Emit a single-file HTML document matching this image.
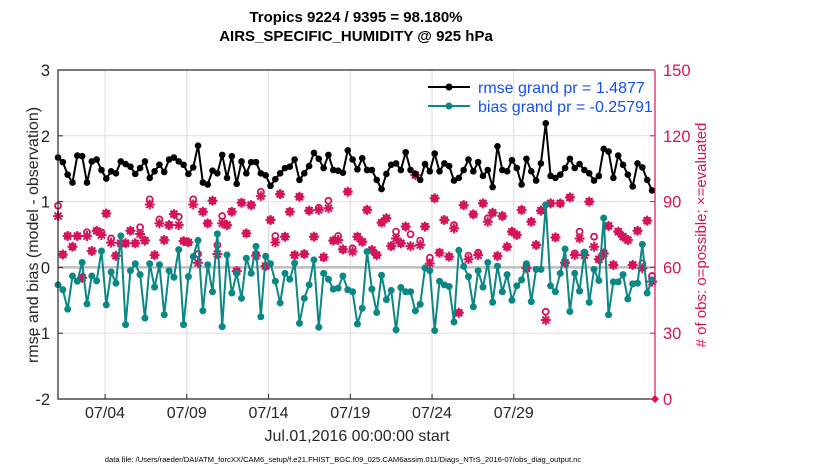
<!DOCTYPE html>
<html><head><meta charset="utf-8"><style>
body{margin:0;background:#fff;}
svg{display:block;font-family:"Liberation Sans",Arial,sans-serif;}
</style></head><body>
<svg id="chart" width="830" height="470" viewBox="0 0 830 470" xmlns="http://www.w3.org/2000/svg">
<rect x="0" y="0" width="830" height="470" fill="#fff"/>
<g id="grid"></g>
<g id="marks"></g>
<g id="axes"></g>
</svg>
<script>
const rmse=[1.67,1.60,1.41,1.29,1.70,1.69,1.29,1.61,1.64,1.48,1.35,1.46,1.43,1.61,1.57,1.53,1.42,1.51,1.61,1.36,1.46,1.56,1.45,1.64,1.67,1.61,1.56,1.42,1.52,1.85,1.29,
1.26,1.47,1.43,1.71,1.36,1.69,1.27,1.61,1.43,1.60,1.60,1.43,1.40,1.24,1.34,1.43,1.51,1.53,1.64,1.33,1.43,1.54,1.74,1.65,1.51,1.71,1.48,1.47,1.44,1.78,
1.64,1.49,1.66,1.48,1.48,1.33,1.19,1.42,1.56,1.58,1.48,1.75,1.48,1.42,1.33,1.57,1.46,1.73,1.46,1.58,1.54,1.32,1.36,1.48,1.64,1.46,1.60,1.39,1.48,1.22,1.84,
1.48,1.46,1.63,1.51,1.26,1.65,1.46,1.32,1.58,2.19,1.39,1.36,1.41,1.51,1.65,1.51,1.57,1.48,1.43,1.32,1.39,1.80,1.76,1.36,1.70,1.56,1.41,1.23,1.58,1.52,1.33,1.17];
const bias=[-0.265,-0.34,-0.635,-0.13,-0.21,0.075,-0.555,-0.13,-0.205,0.25,-0.57,-0.07,-0.24,0.48,-0.87,-0.05,0.055,-0.11,-0.77,0.055,-0.30,0.04,-0.72,-0.05,-0.15,0.27,-0.87,-0.14,0.165,0.41,-0.66,
0.04,-0.37,0.51,-0.90,0.19,-0.39,-0.09,-0.47,0.14,-0.09,0.32,-0.75,0.17,0.055,-0.21,-0.54,-0.09,-0.18,0.065,-0.85,-0.47,-0.265,0.115,-0.91,-0.09,-0.18,-0.33,-0.315,-0.13,-0.34,
-0.37,-0.86,-0.62,0.24,-0.33,-0.685,-0.12,-0.49,-0.35,-0.95,-0.305,-0.37,-0.37,-0.66,-0.56,-0.01,-0.05,-0.96,-0.21,-0.265,-0.29,-0.83,0.26,0.015,-0.14,-0.60,-0.05,-0.30,0.075,-0.53,0.02,
-0.37,-0.11,-0.50,-0.28,-0.19,0.055,-0.52,-0.03,-0.03,0.95,-0.28,-0.37,-0.09,0.28,-0.67,-0.09,-0.36,0.23,-0.53,-0.03,-0.20,0.75,-0.72,-0.22,-0.22,-0.11,-0.48,-0.25,-0.24,0.35,-0.39,-0.19];
const evaluated=[83.4,65.9,74.3,69.4,74.3,55.3,74.3,67.5,76.7,74.8,84.6,71.3,65.3,71,71,76.7,71,75.2,72.2,88.7,65.6,80.1,72.5,79.3,84.3,79.3,72,71.4,88.7,62.1,85.4,
80.1,90.4,66.1,80.1,79.3,85.4,58.3,89.5,75.5,88.4,65.3,92.5,60.6,81.6,71.4,93.4,74,85.4,65.6,92.2,66.1,85.9,74,86.2,64.6,87,72.2,72.5,68.2,94.5,67.2,
74,71.7,86.2,67.9,65.6,80.4,82.4,69.7,73.2,71,78.6,69.7,102.1,70.2,78.6,61.8,91.5,66.7,81.6,64.9,77.8,39.3,88.4,63.7,84.2,65.6,89.2,80.8,84.9,65.2,
83.4,69.4,76.3,74.8,86.2,59.6,80.8,70.2,85.9,36,89.2,73.7,89.2,62.1,91.9,65.6,73.2,65.6,90,69.4,63.7,66.4,78.9,61.1,76.3,74,72.5,61.1,76.7,59.6,81.3,53.5];
const possible=[88.1,65.9,74.3,69.4,74.3,55.3,76,67.5,76.7,76,84.6,73.2,65.3,71,71,76.7,71,78.3,72.2,91,65.6,81.9,72.5,79.3,84.3,83.1,72,71.4,91,66.1,85.4,
80.1,90.4,70.2,83.4,79.3,85.4,58.3,89.5,75.5,88.4,66.1,94.5,60.6,81.6,74.3,93.4,74,85.4,65.6,92.2,66.1,85.9,74,87.2,64.6,90.4,72.2,74.3,68.2,94.5,68.7,
74,71.7,86.2,67.9,65.6,80.4,82.4,69.7,76.3,71,78.6,75.1,102.1,72.2,78.6,64.4,91.5,66.7,81.6,64.9,79.3,39.3,88.4,65.3,84.2,66.7,89.2,82.4,84.9,65.2,
83.4,69.4,76.3,74.8,86.2,59.6,80.8,70.2,85.9,39.8,89.2,73.7,89.2,62.1,91.9,66.4,76.3,66.7,90,74,63.7,66.4,78.9,61.1,76.3,74,72.5,61.1,76.7,61.8,81.3,56.1];
const leftTicks=[3,2,1,0,-1,-2];
const rightTicks=[150,120,90,60,30,0];
const xTickLabels=["07/04","07/09","07/14","07/19","07/24","07/29"];
const xTickPos=[3,8,13,18,23,28];
</script>
<script>
const NS="http://www.w3.org/2000/svg";
const L=58,R=655,T=70,B=399;
const PINK="#D4145A",TEAL="#0B8785";
function yL(v){return T+(3-v)/5*(B-T);}
function yR(v){return B-v/150*(B-T);}
function xI(i){return 58+i*(652-58)/(rmse.length-1);}
function xD(d){return 56+d*16.35;}
function el(tag,attrs,parent,text){const e=document.createElementNS(NS,tag);for(const k in attrs)e.setAttribute(k,attrs[k]);if(text!==undefined)e.textContent=text;parent.appendChild(e);return e;}
const grid=document.getElementById('grid'),marks=document.getElementById('marks'),axes=document.getElementById('axes');
xTickLabels.forEach((t,k)=>{const x=xD(xTickPos[k]);
 const g=el('line',{x1:x,x2:x,y1:T,y2:B,stroke:'#dcdcdc','stroke-width':1},grid);
 
 });
rightTicks.forEach(v=>{const y=yR(v);
 const g=el('line',{x1:L,x2:R,y1:y,y2:y,stroke:'#f2d3df','stroke-width':1},grid);
 
 });
const zl=el('line',{x1:L,x2:R,y1:yL(0),y2:yL(0),stroke:'#bdbdbd','stroke-width':2.5},grid);


function star(x,y,parent){const s=5;
 return el('path',{d:`M${x-s},${y}H${x+s}M${x},${y-s}V${y+s}M${x-s*0.7},${y-s*0.7}L${x+s*0.7},${y+s*0.7}M${x-s*0.7},${y+s*0.7}L${x+s*0.7},${y-s*0.7}`,stroke:PINK,'stroke-width':2,fill:'none'},parent);}
evaluated.forEach((v,i)=>{const x=xI(i);
 const c=el('circle',{cx:x,cy:yR(possible[i]),r:3,fill:'none',stroke:PINK,'stroke-width':1.8},marks);
 
 
 const s=star(x,yR(v),marks);
 
 });
const rp=rmse.map((v,i)=>xI(i)+','+yL(v)).join(' ');
const rl=el('polyline',{points:rp,fill:'none',stroke:'#000','stroke-width':2},marks);


rmse.forEach((v,i)=>{const c=el('circle',{cx:xI(i),cy:yL(v),r:3.3,fill:'#000'},marks);
 
 });
const bp=bias.map((v,i)=>xI(i)+','+yL(v)).join(' ');
const bl=el('polyline',{points:bp,fill:'none',stroke:TEAL,'stroke-width':2},marks);


bias.forEach((v,i)=>{const c=el('circle',{cx:xI(i),cy:yL(v),r:3.5,fill:TEAL},marks);
 
 });
const fr=el('path',{d:`M${R},${T}H${L}V${B}H${R}`,fill:'none',stroke:'#262626','stroke-width':1.2},axes);


const ra=el('line',{x1:R,x2:R,y1:T,y2:B,stroke:PINK,'stroke-width':1.2},axes);


leftTicks.forEach(v=>{const y=yL(v);
 el('line',{x1:L,x2:L+5,y1:y,y2:y,stroke:'#262626'},axes);
 const t=el('text',{x:L-8,y:y+6,'text-anchor':'end','font-size':16.5,fill:'#262626'},axes,String(v));
 
 });
rightTicks.forEach(v=>{const y=yR(v);
 el('line',{x1:R-5,x2:R,y1:y,y2:y,stroke:PINK},axes);
 const t=el('text',{x:R+8,y:y+6,'font-size':16.5,fill:PINK},axes,String(v));
 
 });
xTickLabels.forEach((s,k)=>{const x=xD(xTickPos[k]);
 el('line',{x1:x,x2:x,y1:B-5,y2:B,stroke:'#262626'},axes);
 const t=el('text',{x:x,y:418,'text-anchor':'middle','font-size':16,fill:'#262626'},axes,s);
 
 });
const zd=el('path',{d:`M${R-4},${B}L${R},${B-4}L${R+4},${B}L${R},${B+4}Z`,fill:PINK},axes);


</script>
<script>
(function(){
const svg=document.getElementById('chart');
const NS="http://www.w3.org/2000/svg";
function t(attrs,txt,name){const e=document.createElementNS(NS,'text');for(const k in attrs)e.setAttribute(k,attrs[k]);e.textContent=txt;
 
 
 svg.appendChild(e);return e;}
t({x:356,y:22,'text-anchor':'middle','font-size':15,'font-weight':'bold',fill:'#000'},'Tropics 9224 / 9395 = 98.180%','chart-title');
t({x:356,y:41,'text-anchor':'middle','font-size':15,'font-weight':'bold',fill:'#000'},'AIRS_SPECIFIC_HUMIDITY @ 925 hPa','chart-subtitle');
t({x:0,y:0,'text-anchor':'middle','font-size':16,fill:'#262626',transform:'translate(38,235) rotate(-90)'},'rmse and bias (model - observation)','left-axis-title');
t({x:0,y:0,'text-anchor':'middle','font-size':15,fill:'#D4145A',transform:'translate(706,235) rotate(-90)'},'# of obs: o=possible; \u00d7=evaluated','right-axis-title');
t({x:357,y:441,'text-anchor':'middle','font-size':16,fill:'#262626'},'Jul.01,2016 00:00:00 start','x-axis-title');
t({x:343,y:462,'text-anchor':'middle','font-size':7.6,fill:'#000'},'data file: /Users/raeder/DAI/ATM_forcXX/CAM6_setup/f.e21.FHIST_BGC.f09_025.CAM6assim.011/Diags_NTrS_2016-07/obs_diag_output.nc','data-file-note');
const lg=document.createElementNS(NS,'g');


svg.appendChild(lg);
lg.innerHTML='<line x1="428" x2="470" y1="87" y2="87" stroke="#000" stroke-width="2"/><circle cx="449" cy="87" r="3.5" fill="#000"/>'+
'<line x1="428" x2="470" y1="106" y2="106" stroke="#0B8785" stroke-width="2"/><circle cx="449" cy="106" r="3.5" fill="#0B8785"/>'+
'<text x="478" y="93" font-size="16" fill="#1450F0">rmse grand pr = 1.4877</text>'+
'<text x="478" y="112" font-size="16" fill="#1450F0">bias grand pr = -0.25791</text>';
})();
</script>
</body></html>
